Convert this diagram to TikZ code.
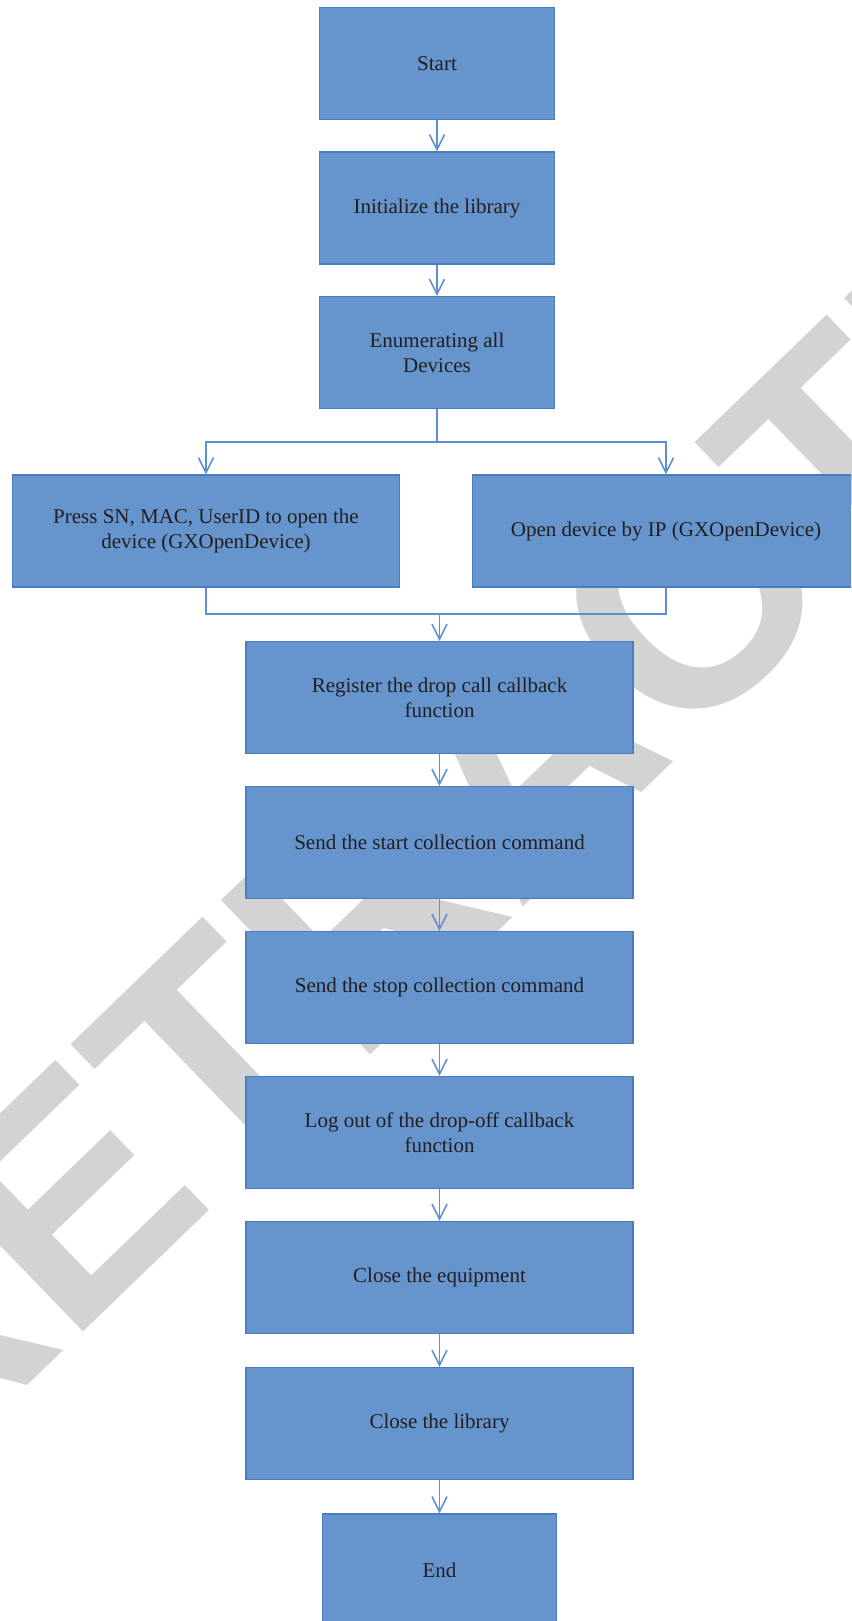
\documentclass[tikz,border=0pt]{standalone}
\usepackage{fontspec}
\setmainfont{Liberation Serif}
\newfontfamily\wmfont{Liberation Sans}
\usetikzlibrary{arrows.meta}
\definecolor{boxfill}{HTML}{6694CD}
\definecolor{boxline}{HTML}{4A7DBE}
\definecolor{conn}{HTML}{5E8FD2}
\definecolor{wmgray}{HTML}{D3D3D3}
\definecolor{txt}{HTML}{231F20}
\tikzset{
  stepbox/.style={draw=boxline, fill=boxfill, line width=1.3pt, text=txt,
    align=center, inner sep=0pt, minimum height=112pt,
    font=\fontsize{21}{25}\selectfont},
  smallbox/.style={stepbox, minimum width=234.4pt},
  widebox/.style={stepbox, minimum width=387pt},
  conline/.style={draw=conn, line width=1.6pt},
  conarrow/.style={conline, -{Straight Barb[length=15pt,width=15pt]}},
}
\begin{document}
\begin{tikzpicture}[x=1pt,y=-1pt]
\useasboundingbox (0,0) rectangle (851,1621);
\clip (0,0) rectangle (851,1621);
% watermark
\node[anchor=base west, inner sep=0pt, rotate=44, text=wmgray,
      font=\wmfont\bfseries\fontsize{312}{312}\selectfont] (wm) at (-94,1503) {RETRACTED};
% boxes
\node[smallbox] (start) at (437,63.5) {Start};
\node[smallbox] (init) at (437,208) {Initialize the library};
\node[smallbox] (enum) at (437,352.5) {Enumerating all\\Devices};
\node[widebox, minimum width=386.5pt] (left) at (206,531) {Press SN, MAC, UserID to open the\\device (GXOpenDevice)};
\node[widebox, minimum width=386.5pt] (right) at (666,531) {Open device by IP (GXOpenDevice)};
\node[widebox] (reg) at (439.5,697.5) {Register the drop call callback\\function};
\node[widebox] (startc) at (439.5,842.5) {Send the start collection command};
\node[widebox] (stopc) at (439.5,987.5) {Send the stop collection command};
\node[widebox] (logout) at (439.5,1132.5) {Log out of the drop-off callback\\function};
\node[widebox] (closeeq) at (439.5,1277.5) {Close the equipment};
\node[widebox] (closelib) at (439.5,1423.5) {Close the library};
\node[smallbox] (endn) at (439.5,1570) {End};
% junctions
\coordinate (sj) at (437,441.7);
\coordinate (mj) at (439.5,614);
% connectors
\draw[conarrow] (start) -- (init);
\draw[conarrow] (init) -- (enum);
\draw[conline] (enum.south) -- (sj);
\draw[conarrow] (sj) -| (left.north);
\draw[conarrow] (sj) -| (right.north);
\draw[conline] (left.south) |- (mj) -| (right.south);
\draw[conarrow] (mj) -- (reg.north);
\draw[conarrow] (reg) -- (startc);
\draw[conarrow] (startc) -- (stopc);
\draw[conarrow] (stopc) -- (logout);
\draw[conarrow] (logout) -- (closeeq);
\draw[conarrow] (closeeq) -- (closelib);
\draw[conarrow] (closelib) -- (endn);
\end{tikzpicture}
\end{document}
